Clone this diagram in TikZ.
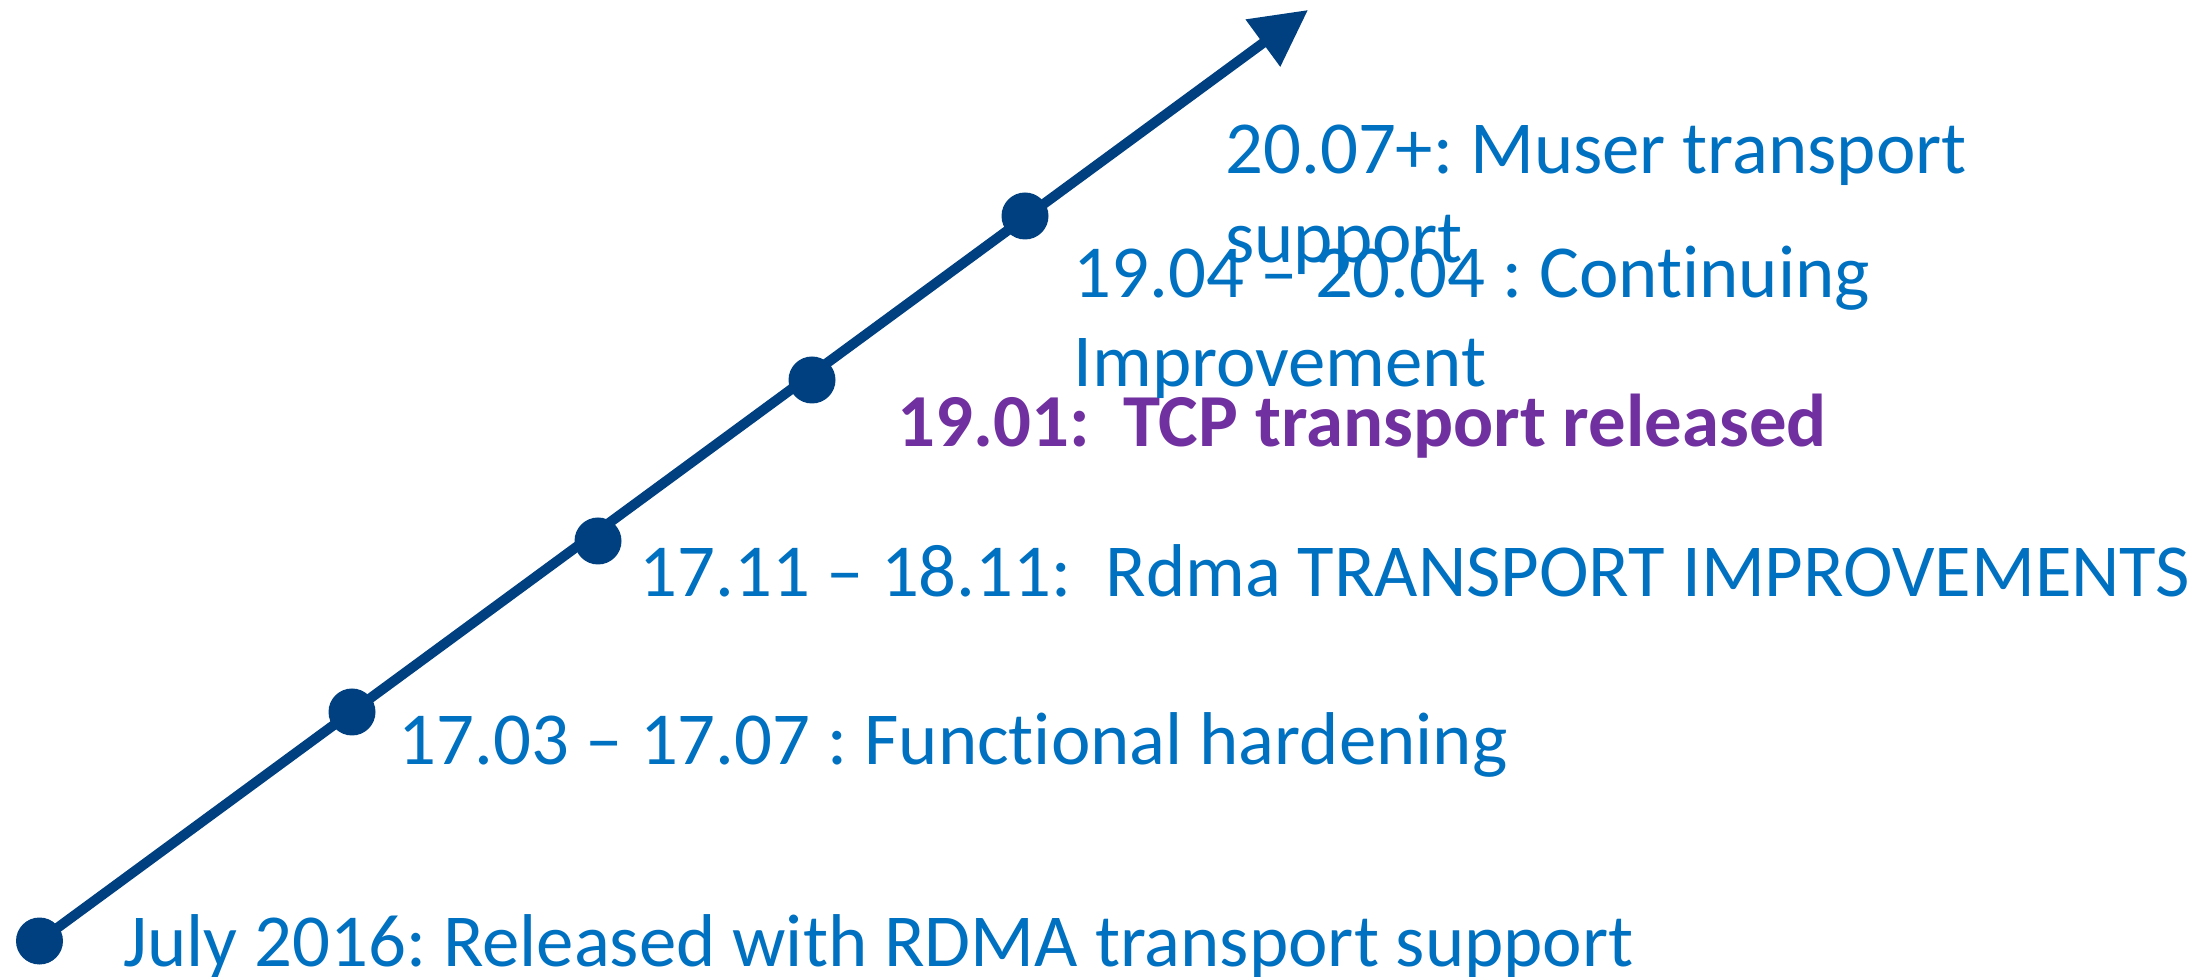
\documentclass[tikz,border=0pt]{standalone}
\usepackage{fontspec}
\setmainfont{Carlito}[Ligatures={TeX,NoCommon}]
\usetikzlibrary{arrows.meta}
\definecolor{lineblue}{RGB}{0,64,128}
\definecolor{textblue}{RGB}{0,112,192}
\definecolor{relpurple}{RGB}{112,48,160}
\frenchspacing
\begin{document}
\begin{tikzpicture}[x=0.5pt,y=-0.5pt,
  timeline/.style={line width=5pt,color=lineblue,-{Triangle[length=28pt,width=28pt]}},
  milestone/.style={circle,fill=lineblue,inner sep=0pt,minimum size=23.5pt},
  label/.style={anchor=base west,inner sep=0pt,text=textblue,align=left,
    font=\fontsize{37.4}{44.5}\selectfont},
  highlight/.style={label,text=relpurple,font=\fontsize{37.4}{44.5}\selectfont\bfseries}]
  \useasboundingbox (0,0) rectangle (2212,977);
  % milestone positions along the timeline
  \coordinate (p1) at (39.5,941);
  \coordinate (p2) at (352,712);
  \coordinate (p3) at (598,541);
  \coordinate (p4) at (812,380);
  \coordinate (p5) at (1025,216);
  \coordinate (tip) at (1308,10);
  % the timeline arrow
  \draw[timeline] (p1) -- (tip);
  % milestone dots
  \node[milestone] (d1) at (p1) {};
  \node[milestone] (d2) at (p2) {};
  \node[milestone] (d3) at (p3) {};
  \node[milestone] (d4) at (p4) {};
  \node[milestone] (d5) at (p5) {};
  % milestone labels (two-line labels are placed by their last baseline)
  \node[label] (t1) at (123,966) {July 2016: Released with RDMA transport support};
  \node[label] (t2) at (398,765) {17.03 – 17.07 : Functional hardening};
  \node[label] (t3) at (639,597) {17.11 – 18.11:\ \ Rdma TRANSPORT IMPROVEMENTS};
  \node[highlight] (t4) at (897,447) {19.01:\ \ TCP transport released};
  \node[label] (t5) at (1073,387) {19.04 – 20.04 : Continuing\\Improvement};
  \node[label] (t6) at (1225,263) {20.07+: Muser transport\\support};
\end{tikzpicture}
\end{document}
